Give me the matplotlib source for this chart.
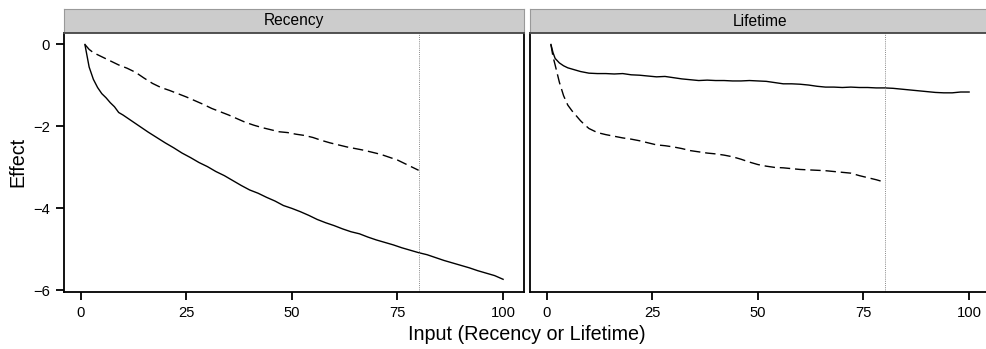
import numpy as np
import matplotlib
matplotlib.use("Agg")
import matplotlib.pyplot as plt

plt.rcParams['font.family'] = ['Liberation Sans', 'DejaVu Sans']

# facet titles
panels = ["Recency", "Lifetime"]
cutoff = 80

# Recency panel, solid line
rec_solid_x = [1, 2, 3, 4, 5, 6, 7, 8, 9, 10, 12, 14, 16, 18, 20, 22, 24, 26, 28, 30,
               32, 34, 36, 38, 40, 42, 44, 46, 48, 50, 52, 54, 56, 58, 60, 62, 64, 66,
               68, 70, 72, 74, 76, 78, 80, 82, 84, 86, 88, 90, 92, 94, 96, 98, 100]
rec_solid_y = [0, -0.55, -0.85, -1.05, -1.2, -1.3, -1.42, -1.52, -1.66, -1.72, -1.86,
               -2.0, -2.14, -2.27, -2.4, -2.52, -2.65, -2.76, -2.88, -2.98, -3.1, -3.2,
               -3.32, -3.44, -3.55, -3.63, -3.73, -3.82, -3.93, -4.0, -4.08, -4.17,
               -4.27, -4.35, -4.42, -4.5, -4.57, -4.62, -4.7, -4.77, -4.83, -4.89,
               -4.96, -5.02, -5.08, -5.13, -5.2, -5.27, -5.33, -5.39, -5.45, -5.52,
               -5.58, -5.64, -5.73]

# Recency panel, dashed line
rec_dash_x = [1, 2, 3, 5, 7, 9, 11, 13, 15, 17, 19, 21, 23, 25, 27, 29, 31, 33, 35, 37,
              39, 41, 43, 45, 47, 49, 51, 53, 55, 57, 59, 61, 63, 65, 67, 69, 71, 73,
              75, 77, 79, 80]
rec_dash_y = [0, -0.12, -0.2, -0.3, -0.4, -0.5, -0.58, -0.68, -0.82, -0.95, -1.05,
              -1.12, -1.2, -1.28, -1.37, -1.46, -1.56, -1.64, -1.72, -1.81, -1.9,
              -1.97, -2.03, -2.08, -2.13, -2.15, -2.19, -2.22, -2.27, -2.34, -2.4,
              -2.45, -2.5, -2.54, -2.58, -2.63, -2.68, -2.75, -2.82, -2.92, -3.02, -3.07]

# Lifetime panel, solid line
life_solid_x = [1, 1.5, 2, 3, 4, 5, 6, 7, 8, 10, 12, 14, 16, 18, 20, 22, 24, 26, 28, 30,
                32, 34, 36, 38, 40, 42, 44, 46, 48, 50, 52, 54, 56, 58, 60, 62, 64, 66,
                68, 70, 72, 74, 76, 78, 80, 82, 84, 86, 88, 90, 92, 94, 96, 98, 100]
life_solid_y = [0, -0.2, -0.34, -0.45, -0.52, -0.57, -0.6, -0.63, -0.66, -0.7, -0.71,
                -0.71, -0.72, -0.71, -0.74, -0.75, -0.77, -0.79, -0.78, -0.81, -0.84,
                -0.86, -0.88, -0.87, -0.88, -0.88, -0.89, -0.89, -0.88, -0.89, -0.9,
                -0.93, -0.96, -0.96, -0.97, -0.99, -1.02, -1.04, -1.04, -1.05, -1.04,
                -1.05, -1.05, -1.06, -1.06, -1.07, -1.09, -1.11, -1.13, -1.15, -1.17,
                -1.18, -1.18, -1.16, -1.16]

# Lifetime panel, dashed line
life_dash_x = [1, 1.5, 2, 3, 4, 5, 6, 7, 8, 9, 10, 12, 14, 16, 18, 20, 22, 24, 26, 28,
               30, 32, 34, 36, 38, 40, 42, 44, 46, 48, 50, 52, 54, 56, 58, 60, 62, 64,
               66, 68, 70, 72, 74, 76, 78, 80]
life_dash_y = [0, -0.3, -0.5, -0.92, -1.25, -1.48, -1.62, -1.74, -1.86, -1.96, -2.05,
               -2.15, -2.2, -2.24, -2.28, -2.31, -2.35, -2.4, -2.45, -2.47, -2.5, -2.54,
               -2.59, -2.62, -2.65, -2.67, -2.7, -2.74, -2.8, -2.87, -2.93, -2.97, -3.0,
               -3.01, -3.03, -3.05, -3.06, -3.07, -3.08, -3.1, -3.12, -3.14, -3.2,
               -3.25, -3.3, -3.36]

series = [
    (rec_solid_x, rec_solid_y, rec_dash_x, rec_dash_y),
    (life_solid_x, life_solid_y, life_dash_x, life_dash_y),
]

fig = plt.figure(figsize=(9.87, 3.49), dpi=100)

W, H = 987.0, 349.0
panel_left = [64, 530]
panel_w = 460
panel_top, panel_bot = 33, 292
strip_top = 9

for i, name in enumerate(panels):
    x0 = panel_left[i] / W
    ax = fig.add_axes([x0, (H - panel_bot) / H, panel_w / W, (panel_bot - panel_top) / H])
    sx, sy, dx, dy = series[i]
    ax.plot(sx, sy, color='black', lw=1.0, solid_joinstyle='round')
    ax.plot(dx, dy, color='black', lw=1.0, linestyle=(0, (7.5, 3.5)))
    ax.axvline(cutoff, color='#888888', lw=0.7, linestyle=(0, (1, 1.2)))

    ax.set_xlim(-3.95, 104.95)
    ax.set_ylim(-6.04, 0.28)
    ax.set_xticks([0, 25, 50, 75, 100])
    ax.set_yticks([0, -2, -4, -6])
    ax.tick_params(length=6, width=1.3, labelsize=10.6, pad=4, color='black')
    if i > 0:
        ax.tick_params(axis='y', left=False, labelleft=False)
    for side in ['left', 'bottom', 'right']:
        ax.spines[side].set_linewidth(1.3)
        ax.spines[side].set_color('black')
    ax.spines['top'].set_visible(False)
    if i == 1:
        # the right edge of the last panel is cut off by the figure border
        ax.spines['right'].set_visible(False)

    # facet strip
    sax = fig.add_axes([x0, (H - panel_top) / H, panel_w / W, (panel_top - strip_top) / H])
    sax.set_facecolor('#CCCCCC')
    sax.set_xticks([])
    sax.set_yticks([])
    for side in ['left', 'right', 'top']:
        sax.spines[side].set_color('#999999')
        sax.spines[side].set_linewidth(0.8)
    if i == 1:
        sax.spines['right'].set_visible(False)
    sax.spines['bottom'].set_color('#444444')
    sax.spines['bottom'].set_linewidth(1.3)
    sax.text(0.5, 0.5, name, ha='center', va='center', fontsize=11.2,
             transform=sax.transAxes)

fig.text(527 / W, 1 - 335 / H, "Input (Recency or Lifetime)", ha='center', va='center',
         fontsize=14.2)
fig.text(18 / W, 1 - 162 / H, "Effect", ha='center', va='center', rotation=90,
         fontsize=14.2)

fig.savefig("out.png", dpi=100)
